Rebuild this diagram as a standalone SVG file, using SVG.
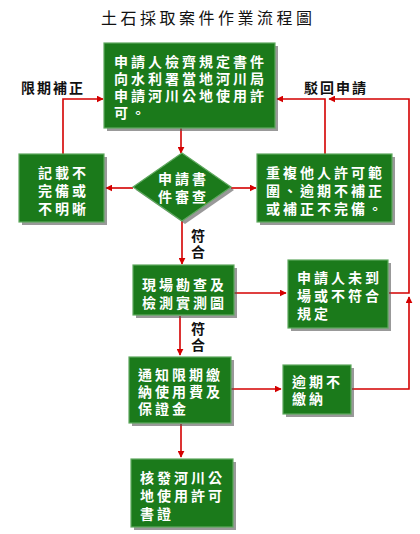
<svg xmlns="http://www.w3.org/2000/svg" width="420" height="534" viewBox="0 0 420 534">
<style>
.box{fill:#1b7a1b;stroke:#5fa85f;stroke-width:1.2}
.sh{fill:#555;opacity:0.6}
.t{font-family:"Liberation Sans","Noto Sans CJK TC","Noto Sans CJK SC",sans-serif;font-size:14px;font-weight:bold;fill:#fff;letter-spacing:3px}
.lbl{font-family:"Liberation Sans","Noto Sans CJK TC","Noto Sans CJK SC",sans-serif;font-size:14px;font-weight:bold;fill:#111;letter-spacing:2px}
.ttl{font-family:"Liberation Sans","Noto Sans CJK TC","Noto Sans CJK SC",sans-serif;font-size:16px;fill:#111;letter-spacing:3.5px}
.ln{fill:none;stroke:#d40000;stroke-width:1.6}
</style>
<defs>
<marker id="ah" viewBox="0 0 10 10" refX="9" refY="5" markerWidth="7" markerHeight="7" markerUnits="userSpaceOnUse" orient="auto">
<path d="M0,0 L10,5 L0,10 z" fill="#d40000"/>
</marker>
</defs>
<rect width="420" height="534" fill="#fff"/>
<text class="ttl" x="101" y="24">土石採取案件作業流程圖</text>
<text class="lbl" x="21" y="93">限期補正</text>
<text class="lbl" x="304" y="93">駁回申請</text>
<text class="lbl"><tspan x="191" y="241">符</tspan><tspan x="191" y="257">合</tspan></text>
<text class="lbl"><tspan x="191" y="334">符</tspan><tspan x="191" y="350">合</tspan></text>

<g id="connectors">
<path class="ln" d="M181,128 V153" marker-end="url(#ah)"/>
<path class="ln" d="M63,154 V99 H103" marker-end="url(#ah)"/>
<path class="ln" d="M325,154 V99 H277" marker-end="url(#ah)"/>
<path class="ln" d="M389,293 H409 V99 H329" marker-end="url(#ah)"/>
<path class="ln" d="M133,188 H106" marker-end="url(#ah)"/>
<path class="ln" d="M231,188 H256" marker-end="url(#ah)"/>
<path class="ln" d="M182,221 V264" marker-end="url(#ah)"/>
<path class="ln" d="M234,293 H286" marker-end="url(#ah)"/>
<path class="ln" d="M180,316 V355" marker-end="url(#ah)"/>
<path class="ln" d="M231,389 H281" marker-end="url(#ah)"/>
<path class="ln" d="M352,389 H409 V297" marker-end="url(#ah)"/>
<path class="ln" d="M181,424 V457" marker-end="url(#ah)"/>
</g>

<g id="n1">
<rect class="sh" x="107" y="46" width="171" height="85"/>
<rect class="box" x="104" y="43" width="171" height="85"/>
<text class="t"><tspan x="114" y="67">申請人檢齊規定書件</tspan><tspan x="114" y="84">向水利署當地河川局</tspan><tspan x="114" y="101">申請河川公地使用許</tspan><tspan x="114" y="118">可。</tspan></text>
</g>

<g id="n2">
<polygon class="sh" points="185,156 234,190 185,224 136,190"/>
<polygon class="box" points="182,153 231,187 182,221 133,187"/>
<text class="t" text-anchor="middle"><tspan x="183.5" y="184">申請書</tspan><tspan x="183.5" y="202">件審查</tspan></text>
</g>

<g id="n3">
<rect class="sh" x="22" y="157" width="85" height="68"/>
<rect class="box" x="19" y="154" width="85" height="68"/>
<text class="t" text-anchor="middle"><tspan x="63.5" y="178">記載不</tspan><tspan x="63.5" y="196">完備或</tspan><tspan x="63.5" y="214">不明晰</tspan></text>
</g>

<g id="n4">
<rect class="sh" x="260" y="157" width="135" height="68"/>
<rect class="box" x="257" y="154" width="135" height="68"/>
<text class="t"><tspan x="266" y="178">重複他人許可範</tspan><tspan x="266" y="196">圍、逾期不補正</tspan><tspan x="266" y="214">或補正不完備。</tspan></text>
</g>

<g id="n5">
<rect class="sh" x="136" y="268" width="101" height="50"/>
<rect class="box" x="133" y="265" width="101" height="50"/>
<text class="t" text-anchor="middle"><tspan x="184.5" y="290">現場勘查及</tspan><tspan x="184.5" y="308">檢測實測圖</tspan></text>
</g>

<g id="n6">
<rect class="sh" x="291" y="263" width="100" height="68"/>
<rect class="box" x="288" y="260" width="100" height="68"/>
<text class="t"><tspan x="297" y="283">申請人未到</tspan><tspan x="297" y="301">場或不符合</tspan><tspan x="297" y="319">規定</tspan></text>
</g>

<g id="n7">
<rect class="sh" x="132" y="360" width="102" height="66"/>
<rect class="box" x="129" y="357" width="102" height="66"/>
<text class="t"><tspan x="138" y="380">通知限期繳</tspan><tspan x="138" y="397">納使用費及</tspan><tspan x="138" y="414">保證金</tspan></text>
</g>

<g id="n8">
<rect class="sh" x="286" y="368" width="68" height="49"/>
<rect class="box" x="283" y="365" width="68" height="49"/>
<text class="t"><tspan x="292" y="387">逾期不</tspan><tspan x="292" y="404">繳納</tspan></text>
</g>

<g id="n9">
<rect class="sh" x="134" y="462" width="102" height="68"/>
<rect class="box" x="131" y="459" width="102" height="68"/>
<text class="t"><tspan x="140" y="483">核發河川公</tspan><tspan x="140" y="501">地使用許可</tspan><tspan x="140" y="519">書證</tspan></text>
</g>
</svg>
